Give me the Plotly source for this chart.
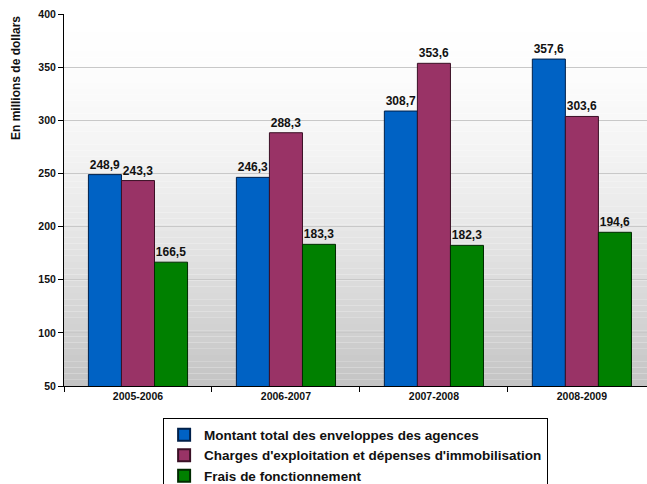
import plotly.graph_objects as go

categories = ["2005-2006", "2006-2007", "2007-2008", "2008-2009"]
series_names = [
    "Montant total des enveloppes des agences",
    "Charges d'exploitation et dépenses d'immobilisation",
    "Frais de fonctionnement",
]
montant = [248.9, 246.3, 308.7, 357.6]
charges = [243.3, 288.3, 353.6, 303.6]
frais = [166.5, 183.3, 182.3, 194.6]
labels_montant = ["248,9", "246,3", "308,7", "357,6"]
labels_charges = ["243,3", "288,3", "353,6", "303,6"]
labels_frais = ["166,5", "183,3", "182,3", "194,6"]
y_ticks = [50, 100, 150, 200, 250, 300, 350, 400]

FONT = "Arial, Liberation Sans, sans-serif"
colors = ["#0062c4", "#993366", "#008000"]
lines = ["#00204a", "#3a1025", "#002a00"]

fig = go.Figure()
for name, vals, labs, c, lc in zip(series_names, [montant, charges, frais],
                                   [labels_montant, labels_charges, labels_frais], colors, lines):
    fig.add_trace(go.Bar(
        x=categories, y=vals, name=f"<b>{name}</b>",
        text=[f"<b>{t}</b>" for t in labs], textposition="outside",
        textfont=dict(family=FONT, size=12, color="#111111"),
        marker=dict(color=c, line=dict(color=lc, width=1)),
        cliponaxis=False,
    ))

# gradient background of the plot area (decoration)
shapes = []
n = 60
for i in range(n):
    t = i / (n - 1)
    g = int(round(255 - (255 - 196) * (t ** 1.6)))
    shapes.append(dict(type="rect", xref="paper", yref="paper",
                       x0=0, x1=1, y0=1 - (i + 1) / n, y1=1 - i / n,
                       fillcolor=f"rgb({g},{g},{g})", line=dict(width=0), layer="below"))

fig.update_layout(
    width=647, height=484,
    margin=dict(l=64, r=0, t=14, b=98, autoexpand=False),
    paper_bgcolor="white", plot_bgcolor="white",
    shapes=shapes,
    barmode="group", bargap=0.33, bargroupgap=0,
    font=dict(family=FONT, color="#111111"),
    showlegend=True,
    legend=dict(
        x=0.17, y=-0.087, xanchor="left", yanchor="top",
        orientation="v",
        bgcolor="white", bordercolor="black", borderwidth=1,
        font=dict(family=FONT, size=13.5, color="#111111"),
        tracegroupgap=0, itemsizing="constant",
    ),
    xaxis=dict(
        range=[-0.5, 3.44],
        showline=True, linecolor="black", linewidth=1,
        ticks="outside", tickson="boundaries", ticklen=5, tickcolor="black",
        tickfont=dict(size=10.5, family=FONT, color="#111111"),
        tickvals=categories, ticktext=[f"<b>{c}</b>" for c in categories],
        showgrid=False, automargin=False,
    ),
    yaxis=dict(
        range=[50, 400],
        showline=True, linecolor="black", linewidth=1,
        ticks="outside", ticklen=5, tickcolor="black",
        tickfont=dict(size=10.5, family=FONT, color="#111111"),
        tickvals=y_ticks, ticktext=[f"<b>{v}</b>" for v in y_ticks],
        showgrid=True, gridcolor="#c8c8c8", gridwidth=1,
        zeroline=False, automargin=False,
    ),
    annotations=[dict(
        text="<b>En millions de dollars</b>", textangle=-90,
        xref="paper", yref="paper", x=(16 - 64) / 583, y=1.0,
        xanchor="center", yanchor="top", showarrow=False,
        font=dict(size=12, family=FONT, color="#111111"),
    )],
)

fig.write_html("out.html", config={"displayModeBar": False},
               post_script="document.body.style.margin='0px';")
